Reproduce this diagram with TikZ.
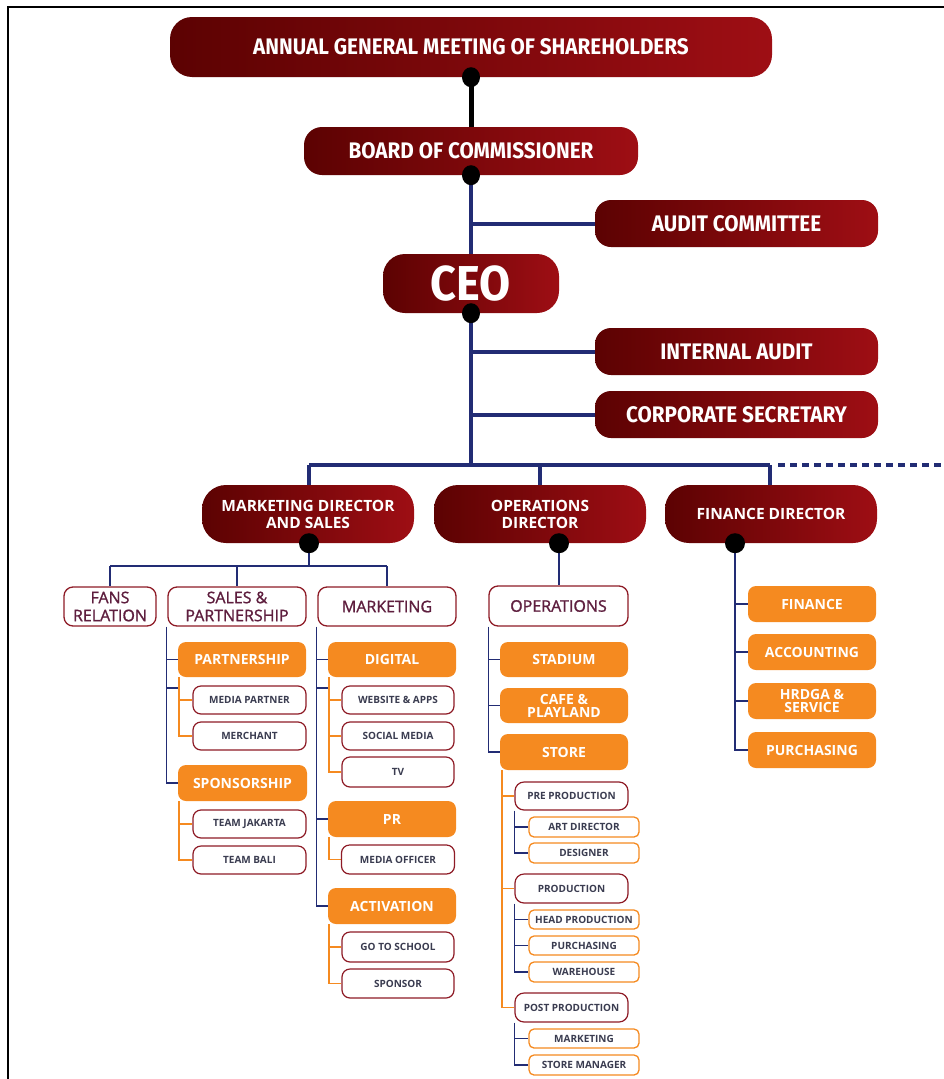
\documentclass[tikz,border=0pt]{standalone}
\usepackage{fontspec}
\setmainfont{Open Sans}
\newfontfamily\headfont{Fira Sans}[FakeStretch=0.92]
\newfontfamily\unitfont{Open Sans}[FakeBold=1.2]
\definecolor{redL}{HTML}{5C0202}
\definecolor{redR}{HTML}{9E0E14}
\definecolor{navy}{HTML}{222C74}
\definecolor{orng}{HTML}{F58A20}
\definecolor{maroon}{HTML}{8E1B26}
\definecolor{plum}{HTML}{5E1E3E}
\definecolor{slate}{HTML}{3A3C50}
\pgfdeclarelayer{bg}
\pgfsetlayers{bg,main}
\begin{document}
\begin{tikzpicture}[x=1pt,y=-1pt,
  sz/.style 2 args={minimum width=#1pt,minimum height=#2pt},
  redbox/.style={left color=redL,right color=redR,draw=none,text=white,
    rounded corners=20pt,inner sep=0pt,align=center},
  headtxt/.style={font={\headfont\bfseries\fontsize{22.5pt}{23pt}\selectfont}},
  dirtxt/.style={font={\bfseries\fontsize{15.5pt}{17pt}\selectfont}},
  unitbox/.style={fill=white,draw=maroon,line width=1.3pt,rounded corners=9pt,
    inner sep=0pt,align=center,text=plum,
    font={\unitfont\fontsize{16pt}{18pt}\selectfont}},
  orangebox/.style={fill=orng,draw=none,rounded corners=8pt,inner sep=0pt,
    align=center,text=white,font={\bfseries\fontsize{14pt}{13pt}\selectfont}},
  smallbox/.style={fill=white,draw=maroon,line width=1.2pt,rounded corners=8pt,
    inner sep=0pt,text=slate,font={\bfseries\fontsize{10pt}{10pt}\selectfont}},
  tinybox/.style={fill=white,draw=orng,line width=1.3pt,rounded corners=5pt,
    inner sep=0pt,text=slate,font={\bfseries\fontsize{10pt}{10pt}\selectfont}},
  blk/.style={line width=5pt,black},
  navythick/.style={line width=4pt,navy},
  navythin/.style={line width=1.4pt,navy},
  orthin/.style={line width=1.4pt,orng},
  navydots/.style={line width=4pt,navy,dash pattern=on 7pt off 5pt},
  dot/.style={fill=black}]
\useasboundingbox (0,0) rectangle (944,1079);

% frame
\draw[line width=2pt] (944,7) -- (8,7) -- (8,1079);

% top of the company
\node[redbox,headtxt,sz={602}{60},rounded corners=22pt] (agm) at (471,47) {ANNUAL GENERAL MEETING OF SHAREHOLDERS};
\node[redbox,headtxt,sz={334}{48},rounded corners=18pt] (boc) at (471,151) {BOARD OF COMMISSIONER};
\node[redbox,headtxt,sz={283}{47},rounded corners=16pt] (ac) at (736.5,223.5) {AUDIT COMMITTEE};
\node[redbox,sz={176}{59},rounded corners=22pt,font={\headfont\bfseries\fontsize{49pt}{49pt}\selectfont}] (ceo) at (471,283.5) {CEO};
\node[redbox,headtxt,sz={283}{47},rounded corners=16pt] (ia) at (736.5,351.5) {INTERNAL AUDIT};
\node[redbox,headtxt,sz={283}{47},rounded corners=16pt] (cs) at (736.5,414.5) {CORPORATE SECRETARY};
\coordinate (bus) at (471,465);
\coordinate (busend) at (944,465);

% directors
\node[redbox,dirtxt,sz={212}{58},rounded corners=24pt] (md) at (308,514) {MARKETING DIRECTOR\\AND SALES};
\node[redbox,dirtxt,sz={212}{58},rounded corners=24pt] (od) at (540,514) {OPERATIONS\\DIRECTOR};
\node[redbox,dirtxt,sz={212}{58},rounded corners=24pt] (fd) at (771,514) {FINANCE DIRECTOR};

% marketing and sales
\node[unitbox,sz={92}{39}] (fr) at (110,606.5) {FANS\\RELATION};
\node[unitbox,sz={138}{39}] (sp) at (237,606.5) {SALES \&\\PARTNERSHIP};
\node[unitbox,sz={138}{39}] (mk) at (387,606.5) {MARKETING};

\node[orangebox,sz={128}{35}] (partner) at (242,659.5) {PARTNERSHIP};
\node[smallbox,sz={113}{28}] (mpart) at (249.5,700) {MEDIA PARTNER};
\node[smallbox,sz={113}{28}] (merch) at (249.5,736) {MERCHANT};
\node[orangebox,sz={129}{36}] (spons) at (242.5,783) {SPONSORSHIP};
\node[smallbox,sz={113}{28}] (tj) at (249.5,824) {TEAM JAKARTA};
\node[smallbox,sz={113}{28}] (tb) at (249.5,860) {TEAM BALI};

\node[orangebox,sz={128}{35}] (digital) at (392,659.5) {DIGITAL};
\node[smallbox,sz={112}{28}] (web) at (398,700) {WEBSITE \& APPS};
\node[smallbox,sz={112}{28}] (social) at (398,736) {SOCIAL MEDIA};
\node[smallbox,sz={112}{30}] (tv) at (398,772) {TV};
\node[orangebox,sz={128}{36}] (pr) at (392,819) {PR};
\node[smallbox,sz={113}{29}] (mo) at (398,859.5) {MEDIA OFFICER};
\node[orangebox,sz={128}{36}] (act) at (392,906) {ACTIVATION};
\node[smallbox,sz={112}{30}] (gts) at (398,947) {GO TO SCHOOL};
\node[smallbox,sz={112}{29}] (sponsor) at (398,983.5) {SPONSOR};

% operations
\node[unitbox,sz={139}{40}] (ops) at (558.5,606) {OPERATIONS};
\node[orangebox,sz={128}{35}] (stadium) at (564,659.5) {STADIUM};
\node[orangebox,sz={128}{35},font={\bfseries\fontsize{14pt}{13pt}\selectfont}] (cafe) at (564,705.5) {CAFE \&\\PLAYLAND};
\node[orangebox,sz={128}{36}] (store) at (564,752) {STORE};
\node[smallbox,sz={113}{28},rounded corners=9pt] (pre) at (571.5,796) {PRE PRODUCTION};
\node[tinybox,sz={110}{20}] (art) at (584,827) {ART DIRECTOR};
\node[tinybox,sz={110}{20}] (des) at (584,853) {DESIGNER};
\node[smallbox,sz={113}{29},rounded corners=9pt] (prod) at (571.5,888.5) {PRODUCTION};
\node[tinybox,sz={110}{19}] (head) at (584,919.5) {HEAD PRODUCTION};
\node[tinybox,sz={110}{19}] (purch) at (584,945.5) {PURCHASING};
\node[tinybox,sz={110}{20}] (ware) at (584,972) {WAREHOUSE};
\node[smallbox,sz={113}{29},rounded corners=9pt] (post) at (571.5,1007.5) {POST PRODUCTION};
\node[tinybox,sz={110}{19}] (smk) at (584,1038.5) {MARKETING};
\node[tinybox,sz={110}{20}] (sman) at (584,1065) {STORE MANAGER};

% finance
\node[orangebox,sz={128}{36}] (fin) at (812,604) {FINANCE};
\node[orangebox,sz={128}{36}] (acc) at (812,652) {ACCOUNTING};
\node[orangebox,sz={128}{36}] (hr) at (812,701) {HRDGA \&\\SERVICE};
\node[orangebox,sz={128}{36}] (pur) at (812,750) {PURCHASING};

% connection points below the boxes
\coordinate (mdot) at ([xshift=1pt]md.south);
\coordinate (odot) at ([xshift=19pt]od.south);
\coordinate (fdot) at ([xshift=-36pt]fd.south);
\coordinate (mbus) at (309,566);
\coordinate (stick) at (178,688);
\coordinate (mtick) at (328,688);
\coordinate (sspine) at ([xshift=-1pt]sp.south west);
\coordinate (mspine) at ([xshift=-1pt]mk.south west);
\coordinate (pspine) at ([xshift=1pt]partner.south west);
\coordinate (spspine) at ([xshift=1pt]spons.south west);
\coordinate (dspine) at ([xshift=1pt]digital.south west);
\coordinate (prspine) at ([xshift=1pt]pr.south west);
\coordinate (aspine) at ([xshift=1pt]act.south west);
\coordinate (stspine) at ([xshift=2pt]store.south west);

\begin{pgfonlayer}{bg}
  \draw[blk] (agm.south) -- (boc.north);
  \draw[navythick] (boc.south) -- (bus);
  \draw[navythick] (boc.south |- ac.west) -- (ac.west);
  \draw[navythick] (boc.south |- ia.west) -- (ia.west);
  \draw[navythick] (boc.south |- cs.west) -- (cs.west);
  \draw[navythick] (mdot |- bus) -- ([xshift=-1pt]fd.north |- bus);
  \draw[navythick] (mdot |- bus) -- (mdot |- md.north);
  \draw[navythick] (od.north |- bus) -- (od.north);
  \draw[navythick] ([xshift=-1pt]fd.north |- bus) -- ([xshift=-1pt]fd.north);
  \draw[navydots] ([xshift=7pt]fd.north |- bus) -- (busend);

  % marketing director and sales
  \draw[navythin] (mdot) -- (mbus);
  \draw[navythin] (fr.north |- mbus) -- (mk.north |- mbus);
  \draw[navythin] (fr.north |- mbus) -- (fr.north);
  \draw[navythin] (sp.north |- mbus) -- (sp.north);
  \draw[navythin] (mk.north |- mbus) -- (mk.north);

  \draw[navythin] (sspine) |- (spons.west);
  \draw[navythin] (sspine |- partner.west) -- (partner.west);
  \draw[navythin] (sspine |- stick) -- (stick);
  \draw[orthin] (pspine) |- (merch.west);
  \draw[orthin] (pspine |- mpart.west) -- (mpart.west);
  \draw[orthin] (spspine) |- (tb.west);
  \draw[orthin] (spspine |- tj.west) -- (tj.west);

  \draw[navythin] (mspine) |- (act.west);
  \draw[navythin] (mspine |- digital.west) -- (digital.west);
  \draw[navythin] (mspine |- mtick) -- (mtick);
  \draw[navythin] (mspine |- pr.west) -- (pr.west);
  \draw[orthin] (dspine) |- (tv.west);
  \draw[orthin] (dspine |- web.west) -- (web.west);
  \draw[orthin] (dspine |- social.west) -- (social.west);
  \draw[orthin] (prspine) |- (mo.west);
  \draw[orthin] (aspine) |- (sponsor.west);
  \draw[orthin] (aspine |- gts.west) -- (gts.west);

  % operations
  \draw[navythin] (odot) -- (odot |- ops.north);
  \draw[navythin] (ops.south west) |- (store.west);
  \draw[navythin] (ops.south west |- stadium.west) -- (stadium.west);
  \draw[navythin] (ops.south west |- cafe.west) -- (cafe.west);
  \draw[orthin] (stspine) |- (post.west);
  \draw[orthin] (stspine |- pre.west) -- (pre.west);
  \draw[orthin] (stspine |- prod.west) -- (prod.west);
  \draw[navythin] (pre.south west) |- (des.west);
  \draw[navythin] (pre.south west |- art.west) -- (art.west);
  \draw[navythin] (prod.south west) |- (ware.west);
  \draw[navythin] (prod.south west |- head.west) -- (head.west);
  \draw[navythin] (prod.south west |- purch.west) -- (purch.west);
  \draw[navythin] (post.south west) |- (sman.west);
  \draw[navythin] (post.south west |- smk.west) -- (smk.west);

  % finance
  \draw[navythin] (fdot) |- (pur.west);
  \draw[navythin] (fdot |- fin.west) -- (fin.west);
  \draw[navythin] (fdot |- acc.west) -- (acc.west);
  \draw[navythin] (fdot |- hr.west) -- (hr.west);
\end{pgfonlayer}

% junction dots
\fill[dot] (agm.south) ellipse [x radius=9pt,y radius=10pt];
\fill[dot] (boc.south) ellipse [x radius=9pt,y radius=10pt];
\fill[dot] (ceo.south) ellipse [x radius=9pt,y radius=10pt];
\fill[dot] (mdot) circle [radius=10pt];
\fill[dot] (odot) circle [radius=10pt];
\fill[dot] (fdot) circle [radius=10pt];
\end{tikzpicture}
\end{document}
